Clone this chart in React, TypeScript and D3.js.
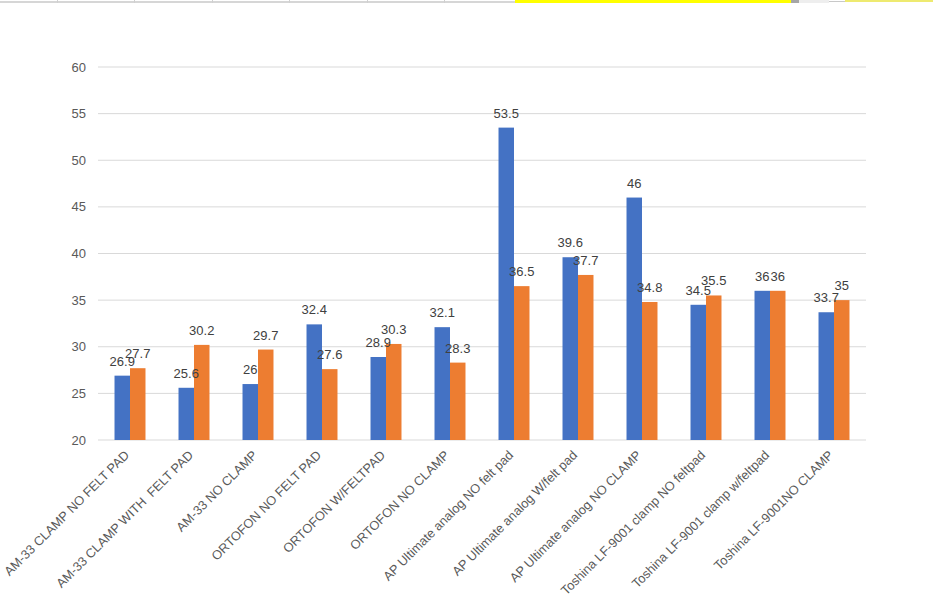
import React from "react";
import * as d3 from "d3";

const categories = [
  "AM-33 CLAMP NO FELT PAD",
  "AM-33 CLAMP WITH  FELT PAD",
  "AM-33 NO CLAMP",
  "ORTOFON NO FELT PAD",
  "ORTOFON W/FELTPAD",
  "ORTOFON NO CLAMP",
  "AP Ultimate analog NO felt pad",
  "AP Ultimate analog W/felt pad",
  "AP Ultimate analog NO CLAMP",
  "Toshina LF-9001 clamp NO feltpad",
  "Toshina LF-9001 clamp w/feltpad",
  "Toshina LF-9001NO CLAMP",
];
const series1 = [26.9, 25.6, 26, 32.4, 28.9, 32.1, 53.5, 39.6, 46, 34.5, 36, 33.7];
const series2 = [27.7, 30.2, 29.7, 27.6, 30.3, 28.3, 36.5, 37.7, 34.8, 35.5, 36, 35];
const yTicks = [20, 25, 30, 35, 40, 45, 50, 55, 60];

const W = 933;
const H = 600;
const colors = ["#4472C4", "#ED7D31"];
const FONT = "'Liberation Sans', Arial, sans-serif";

export default function App() {
  const x = d3
    .scaleBand<string>()
    .domain(categories)
    .range([98, 866])
    .paddingInner(0.516)
    .paddingOuter(0.258);
  const inner = d3
    .scaleBand<number>()
    .domain([0, 1])
    .range([0, x.bandwidth()]);
  const y = d3.scaleLinear().domain([20, 60]).range([440, 67]);
  const seriesList = [series1, series2];

  return (
    <div style={{ position: "absolute", left: 0, top: 0 }}>
      <svg width={W} height={H} style={{ display: "block", background: "#fff" }}>
        {/* spreadsheet residue at top */}
        <rect x={0} y={1} width={515} height={2} fill="#d6d6d6" />
        {[57, 134, 212, 289, 367, 444].map((v) => (
          <rect key={v} x={v} y={0} width={1} height={3} fill="#d0d0d0" />
        ))}
        <rect x={515} y={0} width={276} height={3} fill="#ffff00" />
        <rect x={791} y={0} width={8} height={3} fill="#a6a6a6" />
        <rect x={799} y={0} width={30} height={3} fill="#eeeeee" />
        <rect x={829} y={1} width={104} height={1} fill="#c8c8c8" />
        <rect x={845} y={0} width={88} height={2} fill="#eeea70" />

        {/* gridlines */}
        {yTicks.map((t) => (
          <g key={t}>
            <line x1={98} x2={866} y1={y(t)} y2={y(t)} stroke="#d9d9d9" strokeWidth={1} />
            <text
              x={86}
              y={y(t)}
              dy="0.35em"
              textAnchor="end"
              fontFamily={FONT}
              fontSize={13}
              fill="#595959"
            >
              {t}
            </text>
          </g>
        ))}

        {/* bars */}
        {categories.map((c, i) => (
          <g key={c}>
            {seriesList.map((s, k) => {
              const bx = (x(c) as number) + (inner(k) as number);
              const bw = inner.bandwidth();
              return (
                <rect
                  key={k}
                  x={bx}
                  y={y(s[i])}
                  width={bw}
                  height={y(20) - y(s[i])}
                  fill={colors[k]}
                />
              );
            })}
          </g>
        ))}

        {/* value labels */}
        {categories.map((c, i) => (
          <g key={c + "-lbl"}>
            {seriesList.map((s, k) => {
              const cx = (x(c) as number) + (inner(k) as number) + inner.bandwidth() / 2;
              return (
                <text
                  key={k}
                  x={cx}
                  y={y(s[i]) - 10}
                  textAnchor="middle"
                  fontFamily={FONT}
                  fontSize={13}
                  fill="#404040"
                >
                  {s[i]}
                </text>
              );
            })}
          </g>
        ))}

        {/* category labels */}
        {categories.map((c) => {
          const cx = (x(c) as number) + x.bandwidth() / 2;
          const cy = 456;
          return (
            <text
              key={c + "-cat"}
              transform={`translate(${cx},${cy}) rotate(-45)`}
              textAnchor="end"
              fontFamily={FONT}
              fontSize={12.8}
              fill="#595959"
              style={{ whiteSpace: "pre" }}
            >
              {c}
            </text>
          );
        })}
      </svg>
    </div>
  );
}
